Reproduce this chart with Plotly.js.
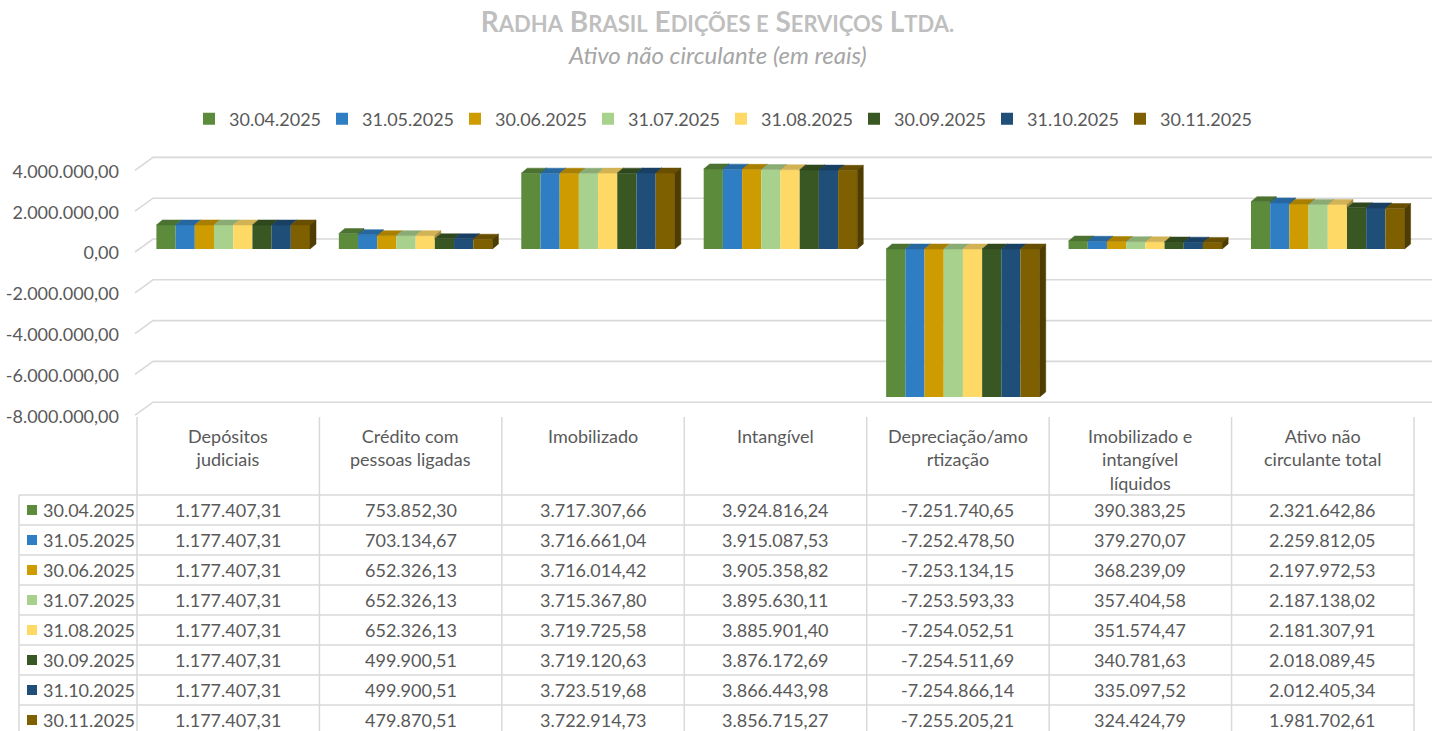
<!DOCTYPE html>
<html>
<head>
<meta charset="utf-8">
<script src="https://cdn.plot.ly/plotly-3.0.1.min.js"></script>
<style>html,body{margin:0;padding:0;background:#fff;}#chart{width:1435px;height:731px;}</style>
</head>
<body>
<div id="chart"></div>
<script>
// ---------------- DATA ----------------
const categories = ["Depósitos judiciais", "Crédito com pessoas ligadas", "Imobilizado", "Intangível",
  "Depreciação/amortização", "Imobilizado e intangível líquidos", "Ativo não circulante total"];
const categoryLabels = ["Depósitos<br>judiciais", "Crédito com<br>pessoas ligadas", "Imobilizado", "Intangível",
  "Depreciação/amo<br>rtização", "Imobilizado e<br>intangível<br>líquidos", "Ativo não<br>circulante total"];
const seriesNames = ["30.04.2025", "31.05.2025", "30.06.2025", "31.07.2025", "31.08.2025", "30.09.2025", "31.10.2025", "30.11.2025"];

const v20250430 = [1177407.31, 753852.30, 3717307.66, 3924816.24, -7251740.65, 390383.25, 2321642.86];
const v20250531 = [1177407.31, 703134.67, 3716661.04, 3915087.53, -7252478.50, 379270.07, 2259812.05];
const v20250630 = [1177407.31, 652326.13, 3716014.42, 3905358.82, -7253134.15, 368239.09, 2197972.53];
const v20250731 = [1177407.31, 652326.13, 3715367.80, 3895630.11, -7253593.33, 357404.58, 2187138.02];
const v20250831 = [1177407.31, 652326.13, 3719725.58, 3885901.40, -7254052.51, 351574.47, 2181307.91];
const v20250930 = [1177407.31, 499900.51, 3719120.63, 3876172.69, -7254511.69, 340781.63, 2018089.45];
const v20251031 = [1177407.31, 499900.51, 3723519.68, 3866443.98, -7254866.14, 335097.52, 2012405.34];
const v20251130 = [1177407.31, 479870.51, 3722914.73, 3856715.27, -7255205.21, 324424.79, 1981702.61];
const seriesValues = [v20250430, v20250531, v20250630, v20250731, v20250831, v20250930, v20251031, v20251130];

const yTickVals = [4000000, 2000000, 0, -2000000, -4000000, -6000000, -8000000];
const yTickText = ["4.000.000,00", "2.000.000,00", "0,00", "-2.000.000,00", "-4.000.000,00", "-6.000.000,00", "-8.000.000,00"];

const titleText = "R<span style='font-size:22px'>ADHA</span> B<span style='font-size:22px'>RASIL</span> E<span style='font-size:22px'>DIÇÕES E</span> S<span style='font-size:22px'>ERVIÇOS</span> L<span style='font-size:22px'>TDA.</span>";
const subtitleText = "Ativo não circulante (em reais)";

// ---------------- STYLE ----------------
const colors = ['#5B8B3B', '#2F7DC2', '#CE9B00', '#A9D18E', '#FFD966', '#385723', '#1F4E79', '#7F6000'];
const FONT = 'Lato, "Open Sans", sans-serif';
const TXT = '#595959';
const GRID = '#D9D9D9';
const W = 1435, H = 731;
const px = x => x / W;
const py = y => 1 - y / H;

// geometry (pixels)
const X_LEFT = 142, X_RIGHT = 1419;
const Y_TOP = 150, Y_BOT = 420, ZERO_PX = 249;
const PXU = 20.4e-6;                 // pixels per unit value
const catPx = (X_RIGHT - X_LEFT) / categories.length;
const BARGAP = 0.158;
const DX = 6 / catPx, DY = 5 / PXU;  // 3D depth offset in data units
const yRange = [-(Y_BOT - ZERO_PX) / PXU, (ZERO_PX - Y_TOP) / PXU];

function shade(hex, f) {
  const n = parseInt(hex.slice(1), 16);
  const r = Math.round(((n >> 16) & 255) * f), g = Math.round(((n >> 8) & 255) * f), b = Math.round((n & 255) * f);
  return 'rgb(' + r + ',' + g + ',' + b + ')';
}
function fmt(v) {
  const neg = v < 0;
  const s = Math.abs(v).toFixed(2).split('.');
  const ip = s[0].replace(/\B(?=(\d{3})+(?!\d))/g, '.');
  return (neg ? '-' : '') + ip + ',' + s[1];
}

// ---------------- TRACES ----------------
const traces = [];
const nS = seriesNames.length;
seriesNames.forEach((name, t) => {
  traces.push({
    type: 'bar', name: name, x: categories.map((c, i) => i), y: seriesValues[t],
    marker: { color: colors[t], line: { width: 0 } }, hoverinfo: 'skip'
  });
});
const groupW = 1 - BARGAP, barW = groupW / nS;
// 3D tops and sides
seriesNames.forEach((name, t) => {
  const tx = [], ty = [], sx = [], sy = [];
  categories.forEach((c, i) => {
    const v = seriesValues[t][i];
    const x0 = i - groupW / 2 + t * barW, x1 = x0 + barW;
    const top = Math.max(v, 0);
    tx.push(x0, x1, x1 + DX, x0 + DX, x0, null);
    ty.push(top, top, top + DY, top + DY, top, null);
    const last = t === nS - 1;
    const nxt = last ? 0 : seriesValues[t + 1][i];
    if (v >= 0) {
      let lower = last ? 0 : Math.max(nxt, 0);
      if (last || nxt < v) {
        sx.push(x1, x1, x1 + DX, x1 + DX, x1, null);
        sy.push(lower, v, v + DY, lower + DY, lower, null);
      }
    } else {
      if (last) {
        sx.push(x1, x1, x1 + DX, x1 + DX, x1, null);
        sy.push(0, v, v + DY, DY, 0, null);
      } else if (nxt > v) {
        const upper = Math.min(nxt, 0);
        if (v + DY < upper) {
          sx.push(x1, x1, x1 + DX, x1 + DX, x1, null);
          sy.push(upper, v, v + DY, upper, upper, null);
        }
      }
    }
  });
  traces.push({ type: 'scatter', mode: 'lines', x: tx, y: ty, fill: 'toself', fillcolor: shade(colors[t], 0.82),
    line: { width: 0.5, color: shade(colors[t], 0.82) }, showlegend: false, hoverinfo: 'skip' });
  if (sx.length) traces.push({ type: 'scatter', mode: 'lines', x: sx, y: sy, fill: 'toself', fillcolor: shade(colors[t], 0.62),
    line: { width: 0.5, color: shade(colors[t], 0.62) }, showlegend: false, hoverinfo: 'skip' });
});

// ---------------- SHAPES & ANNOTATIONS ----------------
const shapes = [];
const annotations = [];
// 3D grid (back wall lines + left wall diagonals)
const BACK_OFF = 10 / PXU, FRONT_OFF = -3 / PXU;
yTickVals.forEach(v => {
  shapes.push({ type: 'path', xref: 'paper', yref: 'y', layer: 'below',
    path: 'M' + px(135) + ',' + (v + FRONT_OFF) + ' L' + px(153) + ',' + (v + BACK_OFF) + ' L' + px(1432) + ',' + (v + BACK_OFF),
    line: { color: GRID, width: 1.6 } });
});

// data table
const T_LEFT = 19, T_X0 = 137, T_X1 = 1414, T_HEAD_TOP = 417, T_ROW0 = 495, ROW_H = 30;
const colW = (T_X1 - T_X0) / categories.length;
for (let k = 0; k <= categories.length; k++) {
  const x = T_X0 + k * colW;
  shapes.push({ type: 'line', xref: 'paper', yref: 'paper', x0: px(x), x1: px(x), y0: py(T_HEAD_TOP), y1: py(H + 5), line: { color: GRID, width: 1.5 } });
}
shapes.push({ type: 'line', xref: 'paper', yref: 'paper', x0: px(T_LEFT), x1: px(T_LEFT), y0: py(T_ROW0), y1: py(H + 5), line: { color: GRID, width: 1.5 } });
for (let r = 0; r <= nS; r++) {
  const y = T_ROW0 + r * ROW_H;
  shapes.push({ type: 'line', xref: 'paper', yref: 'paper', x0: px(T_LEFT), x1: px(T_X1), y0: py(y), y1: py(y), line: { color: GRID, width: 1.5 } });
}
categoryLabels.forEach((lab, i) => {
  annotations.push({ xref: 'paper', yref: 'paper', x: px(T_X0 + (i + 0.5) * colW), y: py(423), xanchor: 'center', yanchor: 'top',
    text: lab, showarrow: false, align: 'center', font: { family: FONT, size: 18, color: TXT } });
});
seriesNames.forEach((name, t) => {
  const yc = T_ROW0 + (t + 0.5) * ROW_H;
  shapes.push({ type: 'rect', xref: 'paper', yref: 'paper', x0: px(27), x1: px(37), y0: py(yc - 5), y1: py(yc + 5),
    fillcolor: colors[t], line: { width: 0 } });
  annotations.push({ xref: 'paper', yref: 'paper', x: px(41), y: py(yc), xanchor: 'left', yanchor: 'middle',
    text: name, showarrow: false, font: { family: FONT, size: 18, color: TXT } });
  seriesValues[t].forEach((v, i) => {
    annotations.push({ xref: 'paper', yref: 'paper', x: px(T_X0 + (i + 0.5) * colW), y: py(yc), xanchor: 'center', yanchor: 'middle',
      text: fmt(v), showarrow: false, font: { family: FONT, size: 18, color: TXT } });
  });
});
annotations.push({ xref: 'paper', yref: 'paper', x: 0.5, y: py(54), xanchor: 'center', yanchor: 'middle',
  text: subtitleText, showarrow: false, font: { family: FONT, size: 24, color: '#A6A6A6', style: 'italic' } });

// ---------------- LAYOUT ----------------
const layout = {
  width: W, height: H,
  margin: { l: 0, r: 0, t: 0, b: 0, pad: 0 },
  paper_bgcolor: '#ffffff', plot_bgcolor: 'rgba(0,0,0,0)',
  separators: ',.',
  title: { text: titleText, x: 0.5, xanchor: 'center', y: py(22), yanchor: 'middle', yref: 'container',
    font: { family: FONT, size: 28, color: '#BFBFBF', weight: 'bold' } },
  barmode: 'group', bargap: BARGAP, bargroupgap: 0,
  xaxis: { domain: [px(X_LEFT), px(X_RIGHT)], range: [-0.5, 6.5], showgrid: false, zeroline: false, showline: false,
    showticklabels: false, ticks: '', fixedrange: true },
  yaxis: { domain: [py(Y_BOT), py(Y_TOP)], range: yRange, showgrid: false, zeroline: false, showline: false,
    tickmode: 'array', tickvals: yTickVals, ticktext: yTickText, ticks: '', ticklabelstandoff: 22, ticklabelshift: 4,
    tickfont: { family: FONT, size: 18, color: TXT }, fixedrange: true },
  showlegend: true,
  legend: { orientation: 'h', x: px(189), xanchor: 'left', y: py(119), yanchor: 'middle',
    entrywidth: 88, entrywidthmode: 'pixels', traceorder: 'normal',
    font: { family: FONT, size: 18, color: TXT }, bgcolor: 'rgba(0,0,0,0)' },
  shapes: shapes,
  annotations: annotations,
  hovermode: false
};

Plotly.newPlot('chart', traces, layout, { displayModeBar: false, staticPlot: true });
</script>
</body>
</html>
